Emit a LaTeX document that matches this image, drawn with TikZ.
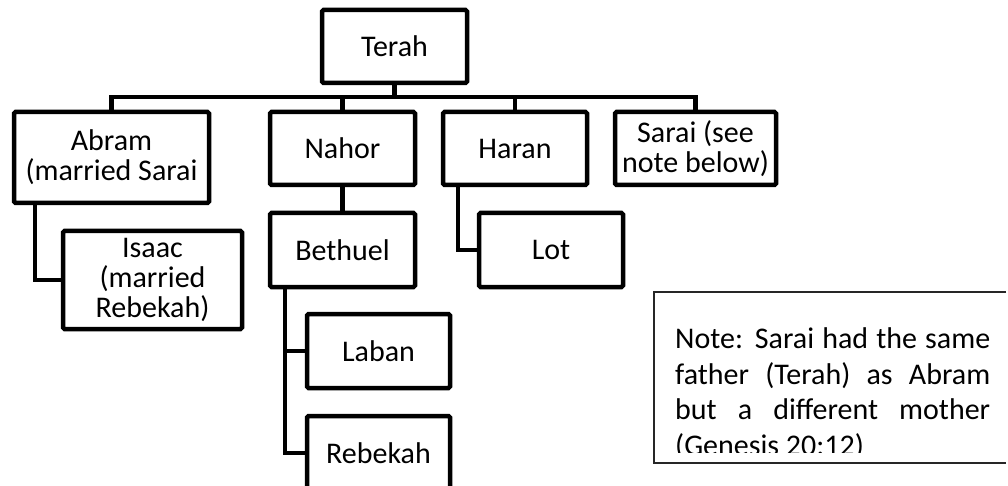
\documentclass[tikz,border=0pt]{standalone}
\usepackage{fontspec}
\setmainfont{Carlito}
\begin{document}
\begin{tikzpicture}[x=1pt,y=-1pt,
  person/.style={draw, line width=4.5pt, rounded corners=1.5pt, align=center,
    font=\fontsize{30}{30}\selectfont, inner sep=0pt, fill=white},
  link/.style={line width=4.5pt},
  notetext/.style={anchor=base west, inner sep=0pt, font=\fontsize{30}{35.7}\selectfont}
]
\useasboundingbox (0,0) rectangle (1008,486);
% people
\node[person, minimum width=145pt, minimum height=73pt] (terah) at (394.5,46.5) {Terah};
\node[person, minimum width=195pt, minimum height=91pt] (abram) at (111.5,157.5) {Abram\\(married Sarai};
\node[person, minimum width=145pt, minimum height=73pt] (nahor) at (342.5,148.5) {Nahor};
\node[person, minimum width=144pt, minimum height=73pt] (haran) at (515,148.5) {Haran};
\node[person, minimum width=161pt, minimum height=73pt] (sarai) at (695.5,148.5) {Sarai (see\\note below)};
\node[person, minimum width=179pt, minimum height=98pt] (isaac) at (152.5,280) {Isaac\\(married\\Rebekah)};
\node[person, minimum width=145pt, minimum height=74pt] (bethuel) at (342.5,250) {Bethuel};
\node[person, minimum width=144pt, minimum height=74pt] (lot) at (551,250) {Lot};
\node[person, minimum width=143pt, minimum height=74pt] (laban) at (378.5,351) {Laban};
\node[person, minimum width=143pt, minimum height=74pt] (rebekah) at (378.5,453) {Rebekah};
% connectors
\coordinate (bar) at (0,97);
\draw[link] (terah.south) -- (terah.south |- bar);
\draw[link] (abram.north) -- (abram.north |- bar) -- (sarai.north |- bar) -- (sarai.north);
\draw[link] (nahor.north) -- (nahor.north |- bar);
\draw[link] (haran.north) -- (haran.north |- bar);
\draw[link] ([xshift=-76.5pt]abram.south) |- (isaac.west);
\draw[link] (nahor.south) -- (bethuel.north);
\draw[link] ([xshift=-57pt]haran.south) |- (lot.west);
\draw[link] ([xshift=-57.5pt]bethuel.south) |- (rebekah.west);
\draw[link] ([xshift=-57.5pt]bethuel.south |- laban.west) -- (laban.west);
% note
\draw[line width=1.5pt, draw=black!85] (1006,292) -- (654,292) -- (654,463) -- (1006,463);
\begin{scope}
\clip (650,292) rectangle (1006,452);
\node[notetext] (n1) at (675,348) {\makebox[315pt][s]{Note: Sarai had the same}};
\node[notetext] (n2) at (675,384) {\makebox[315pt][s]{father (Terah) as Abram}};
\node[notetext] (n3) at (675,419) {\makebox[315pt][s]{but a different mother}};
\node[notetext] (n4) at (675,455) {(Genesis 20:12)};
\end{scope}
\end{tikzpicture}
\end{document}
